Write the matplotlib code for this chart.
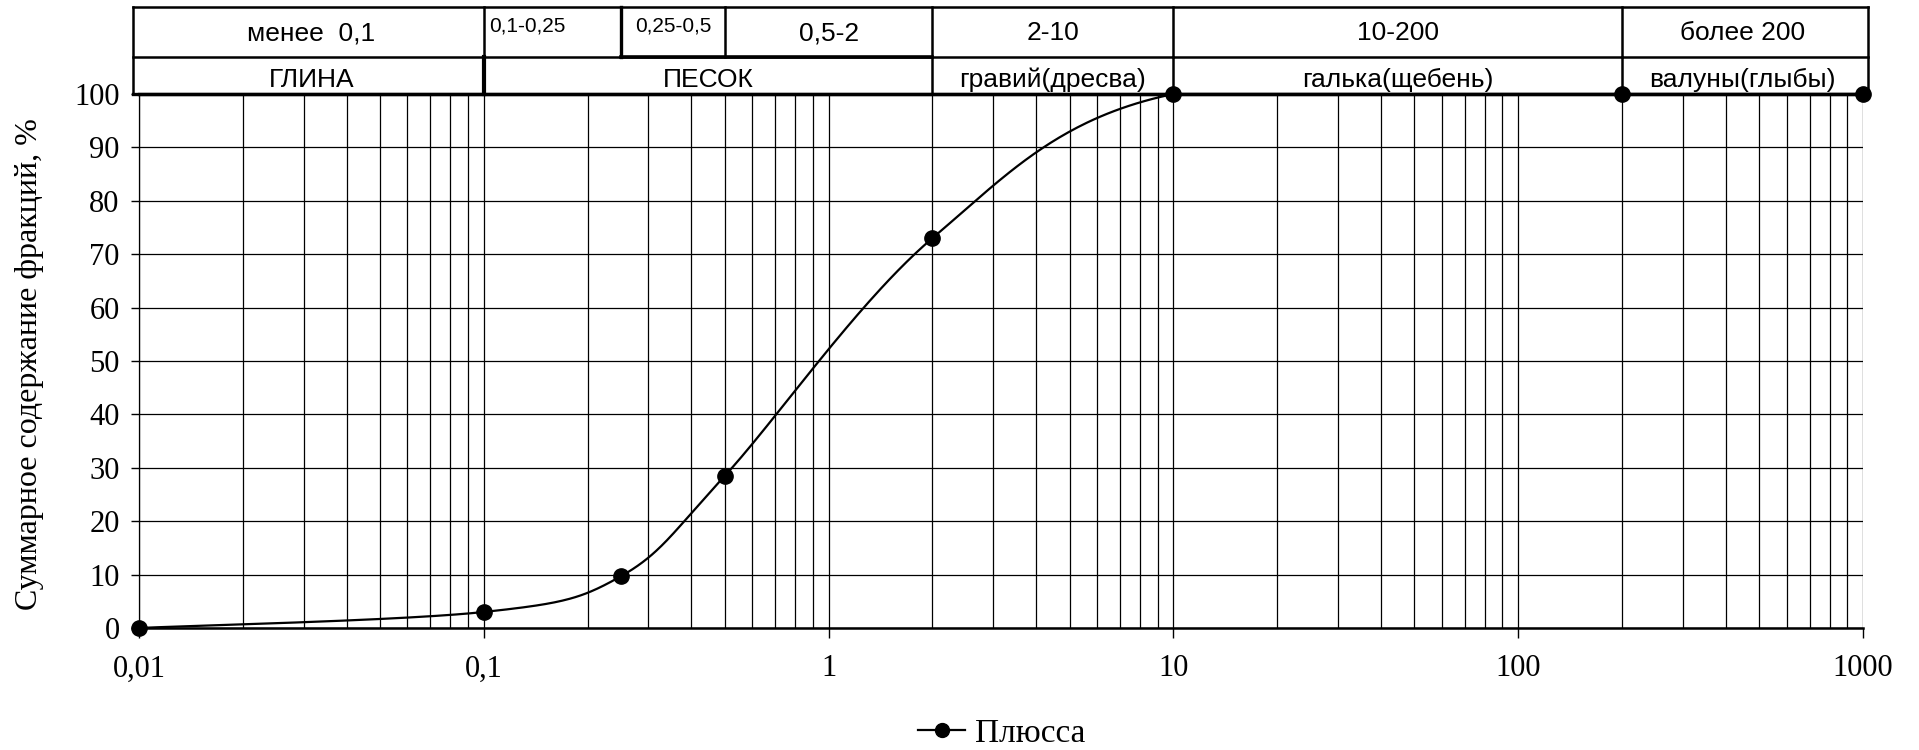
import numpy as np
import matplotlib
matplotlib.use("Agg")
import matplotlib.pyplot as plt
from matplotlib import transforms
from matplotlib.lines import Line2D
from matplotlib.ticker import FixedLocator, FixedFormatter, LogLocator, NullFormatter

# ---------------- data ----------------
sizes = [0.01, 0.1, 0.25, 0.5, 2, 10, 200, 1000]
cumulative = [0, 3, 9.7, 28.5, 73, 100, 100, 100]
series_name = "Плюсса"

x_ticks = [0.01, 0.1, 1, 10, 100, 1000]
x_tick_labels = ["0,01", "0,1", "1", "10", "100", "1000"]
y_ticks = list(range(0, 101, 10))

row1_bounds = [0.01, 0.1, 0.25, 0.5, 2, 10, 200, 1000]
row1_labels = ["менее  0,1", "0,1-0,25", "0,25-0,5", "0,5-2", "2-10", "10-200", "более 200"]
row2_bounds = [0.01, 0.1, 2, 10, 200, 1000]
row2_labels = ["ГЛИНА", "ПЕСОК", "гравий(дресва)", "галька(щебень)", "валуны(глыбы)"]

ylabel = "Суммарное содержание фракций, %"

# ---------------- style ----------------
serif = ["Liberation Serif", "DejaVu Serif"]
sans = ["Liberation Sans", "DejaVu Sans"]

fig = plt.figure(figsize=(19.19, 7.5), dpi=100)
ax = fig.add_axes([139 / 1919, 1 - 628 / 750, (1863 - 139) / 1919, (628 - 94) / 750])

ax.set_xscale("log")
ax.set_xlim(0.01, 1000)
ax.set_ylim(0, 100)

# grid
ax.xaxis.set_major_locator(FixedLocator(x_ticks))
ax.xaxis.set_major_formatter(FixedFormatter(x_tick_labels))
ax.xaxis.set_minor_locator(LogLocator(base=10, subs=np.arange(2, 10), numticks=50))
ax.xaxis.set_minor_formatter(NullFormatter())
ax.set_yticks(y_ticks)
ax.grid(True, which="major", axis="both", color="black", lw=0.9)
ax.grid(True, which="minor", axis="x", color="black", lw=0.9)
ax.set_axisbelow(True)

ax.tick_params(axis="x", which="major", direction="out", length=7, width=1, pad=12,
               labelsize=22)
ax.tick_params(axis="x", which="minor", length=0)
ax.tick_params(axis="y", direction="out", length=6, width=1, pad=8, labelsize=22)
for lab in ax.get_xticklabels() + ax.get_yticklabels():
    lab.set_family(serif)

ax.spines["right"].set_visible(False)
ax.spines["left"].set_linewidth(0.9)
ax.spines["bottom"].set_linewidth(1.8)
ax.spines["top"].set_linewidth(2.4)

# ---------------- smoothed curve (Excel-like Bezier in log-x space) ----------------
lx = np.log10(np.array(sizes, dtype=float))
yy = np.array(cumulative, dtype=float)
n = len(lx)
cx, cy = [], []
for i in range(n - 1):
    p0 = (lx[max(i - 1, 0)], yy[max(i - 1, 0)])
    p1 = (lx[i], yy[i])
    p2 = (lx[i + 1], yy[i + 1])
    p3 = (lx[min(i + 2, n - 1)], yy[min(i + 2, n - 1)])
    c1 = [p1[0] + (p2[0] - p0[0]) / 6, p1[1] + (p2[1] - p0[1]) / 6]
    c2 = [p2[0] - (p3[0] - p1[0]) / 6, p2[1] - (p3[1] - p1[1]) / 6]
    if p1[1] == p2[1]:
        c1[1] = p1[1]
        c2[1] = p2[1]
    t = np.linspace(0, 1, 80)
    bx = (1 - t) ** 3 * p1[0] + 3 * (1 - t) ** 2 * t * c1[0] + 3 * (1 - t) * t ** 2 * c2[0] + t ** 3 * p2[0]
    by = (1 - t) ** 3 * p1[1] + 3 * (1 - t) ** 2 * t * c1[1] + 3 * (1 - t) * t ** 2 * c2[1] + t ** 3 * p2[1]
    cx.extend(bx)
    cy.extend(by)
ax.plot(10 ** np.array(cx), np.array(cy), color="black", lw=1.6, clip_on=False, zorder=4)
ax.plot(sizes, cumulative, linestyle="none", marker="o", ms=11, color="black",
        clip_on=False, zorder=5)

# ---------------- header table ----------------
bt = transforms.blended_transform_factory(ax.transData, ax.transAxes)
y_top = 1.1635
y_mid = 1.0699
x_left = -0.0035
x_right = 1.0029
lw_tab = 1.8

def hline(y, x0=x_left, x1=x_right, lw=lw_tab):
    ax.add_line(Line2D([x0, x1], [y, y], transform=ax.transAxes, color="black",
                       lw=lw, clip_on=False, solid_capstyle="projecting"))

hline(y_top)
hline(y_mid)
hline(1.0, lw=2.4)
for xa in (x_left, x_right):
    ax.add_line(Line2D([xa, xa], [1.0, y_top], transform=ax.transAxes, color="black",
                       lw=lw_tab, clip_on=False))

for b in row1_bounds[1:-1]:
    lw = 2.4 if b == 0.25 else lw_tab
    ax.add_line(Line2D([b, b], [y_mid, y_top], transform=bt, color="black", lw=lw, clip_on=False))
ax.add_line(Line2D([0.25, 2], [y_mid, y_mid], transform=bt, color="black", lw=2.6, clip_on=False))
for b in row2_bounds[1:-1]:
    lw = 3.0 if b == 0.1 else lw_tab
    ax.add_line(Line2D([b, b], [1.0, y_mid], transform=bt, color="black", lw=lw, clip_on=False))

def center(a, b):
    return 10 ** ((np.log10(a) + np.log10(b)) / 2)

def yfrac(ypix):
    return (628 - ypix) / 534

base1 = yfrac(40)
base2 = yfrac(87)
base_small = yfrac(32)
for i, lab in enumerate(row1_labels):
    a, b = row1_bounds[i], row1_bounds[i + 1]
    if lab == "0,1-0,25":
        ax.text(a * 1.035, base_small, lab, transform=bt, ha="left", va="baseline",
                fontsize=15, family=sans)
    elif lab == "0,25-0,5":
        ax.text(center(a, b), base_small, lab, transform=bt, ha="center", va="baseline",
                fontsize=15, family=sans)
    else:
        ax.text(center(a, b), base1, lab, transform=bt, ha="center", va="baseline",
                fontsize=19, family=sans)
for i, lab in enumerate(row2_labels):
    a, b = row2_bounds[i], row2_bounds[i + 1]
    ax.text(center(a, b), base2, lab, transform=bt, ha="center", va="baseline",
            fontsize=19, family=sans)

# ---------------- labels / legend ----------------
fig.text(30 / 1919, 1 - 364 / 750, ylabel, rotation=90, ha="center", va="center",
         fontsize=23, family=serif)

handle = Line2D([], [], color="black", lw=1.6, marker="o", ms=10)
fig.legend([handle], [series_name], loc="center", bbox_to_anchor=(0.522, 0.022),
           frameon=False, prop={"family": serif, "size": 24}, handlelength=1.4,
           handletextpad=0.3)

fig.savefig("out.png", dpi=100)
